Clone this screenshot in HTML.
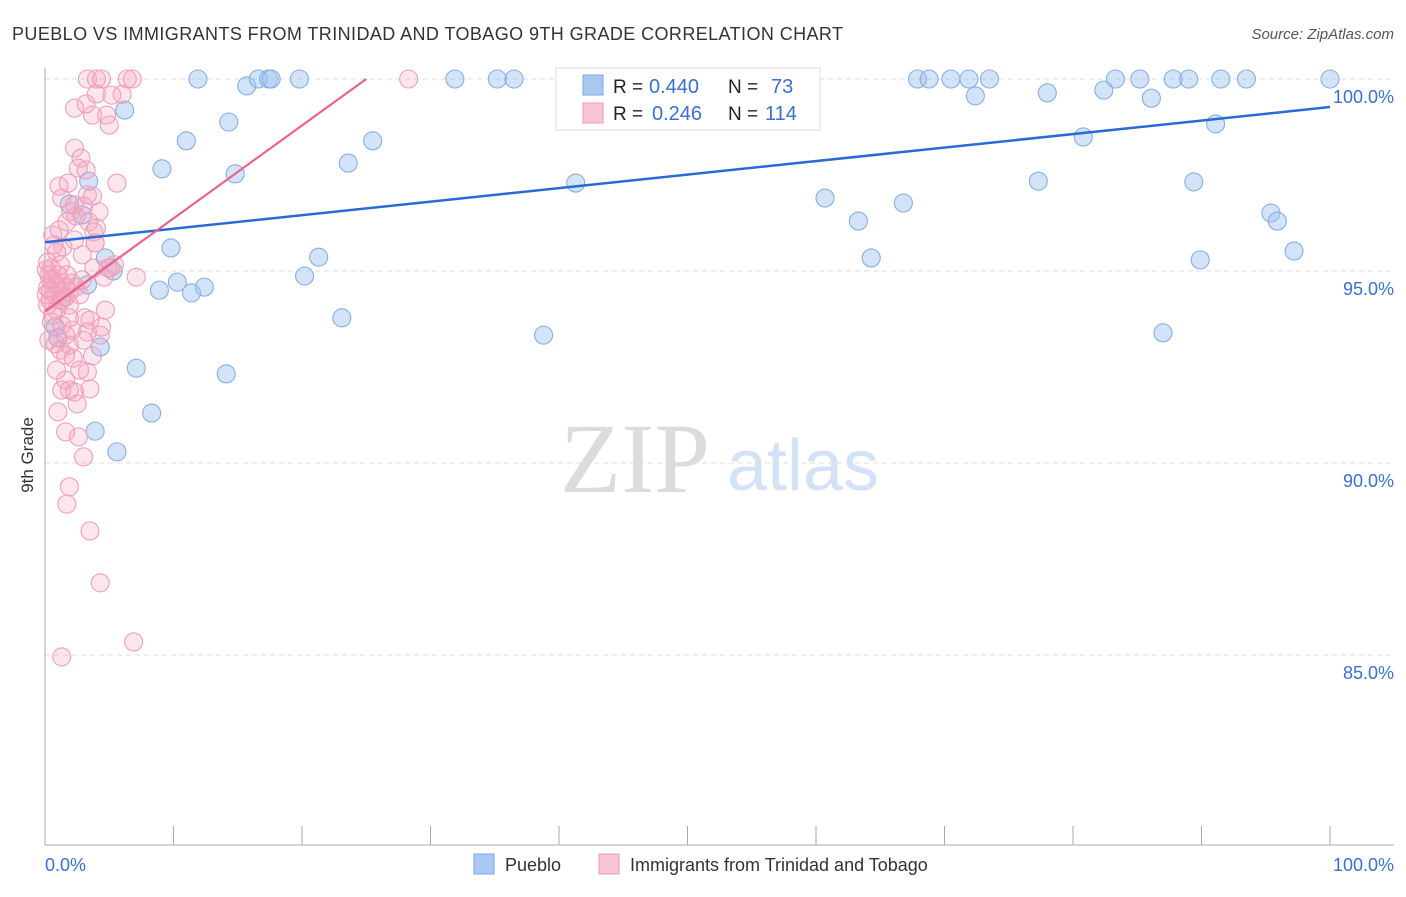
<!DOCTYPE html>
<html><head><meta charset="utf-8"><style>
body{margin:0;background:#fff;font-family:"Liberation Sans",sans-serif}
svg text{font-family:"Liberation Sans",sans-serif}
</style></head><body>
<svg width="1406" height="892" viewBox="0 0 1406 892">
<text x="12" y="40" font-size="18" fill="#333" textLength="831">PUEBLO VS IMMIGRANTS FROM TRINIDAD AND TOBAGO 9TH GRADE CORRELATION CHART</text>
<text x="1394" y="39" font-size="15" fill="#555" font-style="italic" text-anchor="end">Source: ZipAtlas.com</text>
<text x="33" y="455" font-size="17" fill="#333" text-anchor="middle" transform="rotate(-90 33 455)">9th Grade</text>
<g>
<text x="635" y="492" font-size="100" fill="#dcdcdc" text-anchor="middle" style="font-family:'Liberation Serif',serif">ZIP</text>
<text x="803" y="490" font-size="72" fill="#d3e2f5" text-anchor="middle">atlas</text>
</g>
<g id="grid"></g><g id="axes"></g><g id="marks"></g>
<g>
<rect x="556" y="68" width="264" height="62" fill="#fff" stroke="#ddd"/>
<rect x="583" y="75" width="20" height="20" fill="#a9c8f0" stroke="#7ba6e0"/>
<rect x="583" y="103" width="20" height="20" fill="#f9c4d3" stroke="#ea9bb5"/>
<text x="613" y="93" font-size="19" fill="#222">R =</text>
<text x="649" y="93" font-size="20" fill="#3b6fd0">0.440</text>
<text x="728" y="93" font-size="19" fill="#222">N =</text>
<text x="771" y="93" font-size="20" fill="#3b6fd0">73</text>
<text x="613" y="120" font-size="19" fill="#222">R =</text>
<text x="652" y="120" font-size="20" fill="#3b6fd0">0.246</text>
<text x="728" y="120" font-size="19" fill="#222">N =</text>
<text x="765" y="120" font-size="20" fill="#3b6fd0">114</text>
</g>
<g>
<rect x="474" y="854" width="20" height="20" fill="#a9c8f0" stroke="#7ba6e0"/>
<text x="505" y="871" font-size="18" fill="#333">Pueblo</text>
<rect x="599" y="854" width="20" height="20" fill="#f9c4d3" stroke="#ea9bb5"/>
<text x="630" y="871" font-size="18" fill="#333">Immigrants from Trinidad and Tobago</text>
</g>
</svg>
<script>
const yTicks=[100,95,90,85];
const yTickLabels=["100.0%","95.0%","90.0%","85.0%"];
const xEndLabels=["0.0%","100.0%"];
const blueX=[11.9,15.7,16.6,17.4,17.6,19.8,31.9,35.2,36.5,42.4,45.7,67.9,68.8,70.5,71.9,73.5,83.3,85.2,87.8,89.0,91.5,93.5,100,72.4,78.0,82.4,86.1,6.2,14.3,11.0,25.5,80.8,91.1,9.1,23.6,14.8,3.4,41.3,77.3,89.4,60.7,66.8,1.9,2.9,63.3,95.4,95.9,9.8,21.3,97.2,4.7,5.3,20.2,64.3,89.9,10.3,8.9,11.4,12.4,3.3,23.1,38.8,87.0,0.8,4.3,7.1,14.1,8.3,3.9,5.6,1.0,1.3];
const blueY=[100,99.82,100,100,100,100,100,100,100,100,100,100,100,100,100,100,100,100,100,100,100,100,100,99.56,99.64,99.71,99.5,99.19,98.88,98.39,98.39,98.49,98.83,97.66,97.81,97.53,97.34,97.29,97.34,97.32,96.9,96.77,96.74,96.46,96.3,96.51,96.3,95.6,95.36,95.52,95.34,95.0,94.87,95.34,95.29,94.71,94.5,94.43,94.58,94.64,93.78,93.33,93.39,93.54,93.02,92.47,92.32,91.3,90.83,90.29,93.26,94.24];
const pinkX=[3.3,4.0,4.4,6.4,6.8,28.3,4.0,5.2,2.3,3.2,3.7,4.8,2.3,2.8,2.6,3.2,1.8,1.1,5.6,3.3,1.3,2.3,2.0,4.2,3.0,1.7,3.4,1.1,0.6,3.8,2.3,3.9,1.4,0.9,2.9,5.1,7.1,0.2,0.5,0.3,0.6,0.9,1.3,1.6,0.4,0.8,1.2,1.6,1.9,2.4,2.7,0.2,0.9,1.9,3.1,4.7,0.5,1.3,1.6,2.1,3.3,4.3,4.4,0.8,1.2,1.9,1.6,2.2,3.0,3.7,0.9,1.6,2.7,3.3,1.3,2.3,3.5,1.9,2.5,1.0,1.6,2.6,3.0,1.9,1.7,3.5,4.3,6.9,1.3,0.4,0.6,0.1,0.2,0.1,0.4,1.0,2.1,2.9,3.9,4.6,5.4,1.2,1.7,0.7,3.8,3.5,1.9,4.0,2.4,3.7,4.9,0.3,5.0,6.0];
const pinkY=[100,100,100,100,100,100,99.61,99.58,99.24,99.35,99.06,99.06,98.2,97.94,97.68,97.63,97.29,97.21,97.29,96.98,96.9,96.72,96.54,96.54,96.69,96.28,96.28,96.07,95.94,96.02,95.81,95.73,95.63,95.49,95.42,95.08,94.84,95.23,95.08,94.9,94.77,94.64,94.69,94.58,94.5,94.38,94.24,94.32,94.45,94.58,94.38,94.11,93.98,94.11,93.78,93.98,93.67,93.59,93.33,93.46,93.41,93.33,93.54,93.1,92.94,93.07,92.81,92.73,93.2,92.79,92.42,92.16,92.42,92.37,91.9,91.85,91.93,91.9,91.54,91.33,90.81,90.68,90.16,89.38,88.93,88.23,86.88,85.34,84.95,94.24,93.85,95.03,94.56,94.38,94.77,94.9,94.69,94.77,95.73,94.84,95.16,95.16,94.9,95.68,95.08,93.72,93.78,96.12,96.43,96.95,95.08,93.2,98.8,99.6];
const blueTrend=[[0,95.75],[100,99.27]];
const pinkTrend=[[0,93.95],[25,100]];
const NS="http://www.w3.org/2000/svg";
const xs=v=>45+v*12.85;
const ys=v=>79+(100-v)*38.4;
function mk(tag,attrs,parent){const e=document.createElementNS(NS,tag);for(const k in attrs)e.setAttribute(k,attrs[k]);parent.appendChild(e);return e;}
const grid=document.getElementById('grid'),axes=document.getElementById('axes'),marks=document.getElementById('marks');
yTicks.forEach((t,i)=>{
 const l=mk('line',{x1:45,x2:1394,y1:ys(t),y2:ys(t),stroke:'#ddd','stroke-dasharray':'5,4'},grid);
 
 
 const tx=mk('text',{x:1394,y:ys(t)+24,'font-size':18,fill:'#3b6fd0','text-anchor':'end'},axes);
 tx.textContent=yTickLabels[i];
 
 
});
const ax=mk('line',{x1:45,x2:45,y1:68,y2:845,stroke:'#aaa'},axes);


const bx=mk('line',{x1:45,x2:1394,y1:845,y2:845,stroke:'#aaa'},axes);


for(let i=0;i<=10;i++){const t=mk('line',{x1:xs(i*10),x2:xs(i*10),y1:826,y2:845,stroke:'#aaa'},axes);
 
 }
[[0,'start'],[100,'end']].forEach((p,i)=>{const t=mk('text',{x:i?1394:45,y:871,'font-size':18,fill:'#3b6fd0','text-anchor':p[1]},axes);t.textContent=xEndLabels[i];
 
 });
blueX.forEach((x,i)=>{const c=mk('circle',{cx:xs(x),cy:ys(blueY[i]),r:9,fill:'rgba(160,196,240,0.45)',stroke:'#86aee4','stroke-width':1.1},marks);
 
 });
pinkX.forEach((x,i)=>{const c=mk('circle',{cx:xs(x),cy:ys(pinkY[i]),r:9,fill:'rgba(245,165,190,0.28)',stroke:'#ef9fba','stroke-width':1.1},marks);
 
 });
const bl=mk('line',{x1:xs(blueTrend[0][0]),y1:ys(blueTrend[0][1]),x2:xs(blueTrend[1][0]),y2:ys(blueTrend[1][1]),stroke:'#2a6ad4','stroke-width':2.5},marks);


const pl=mk('line',{x1:xs(pinkTrend[0][0]),y1:ys(pinkTrend[0][1]),x2:xs(pinkTrend[1][0]),y2:ys(pinkTrend[1][1]),stroke:'#e8628f','stroke-width':2.2},marks);


</script>
</body></html>
